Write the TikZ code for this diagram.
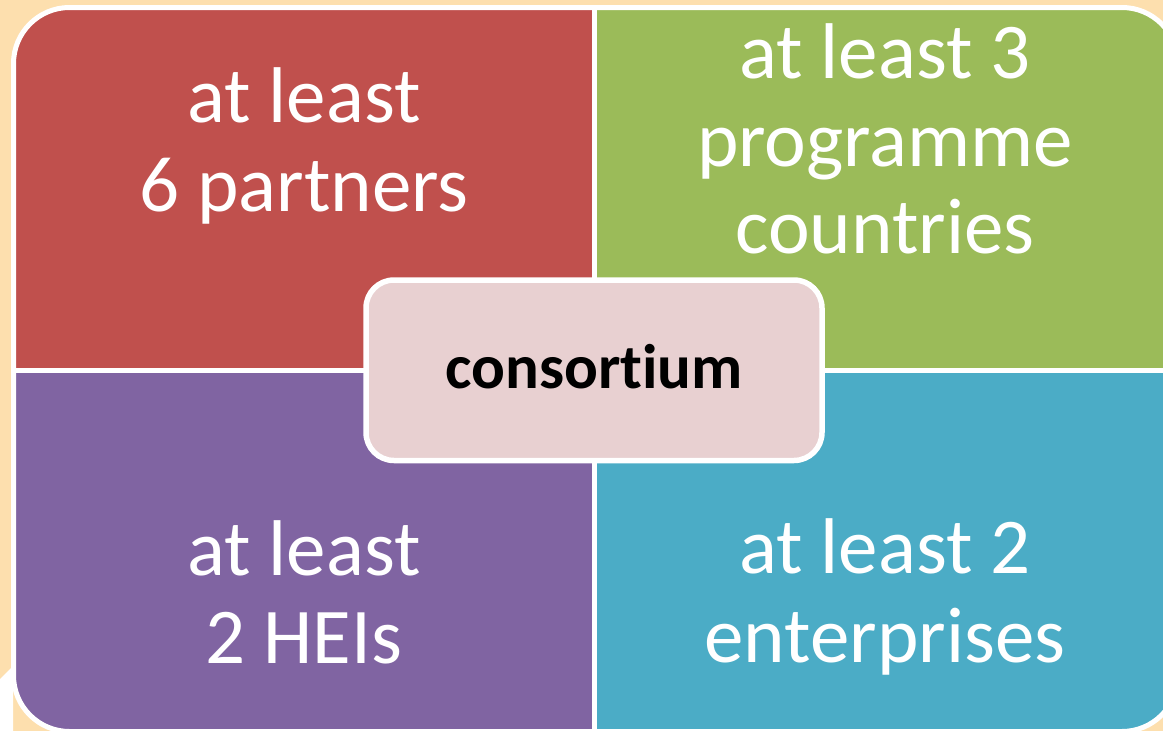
\documentclass[tikz,border=0pt]{standalone}
\usepackage{fontspec}
\setmainfont{Carlito}[Ligatures={NoCommon}]
\definecolor{peach}{HTML}{FDDFAE}
\definecolor{qred}{HTML}{C0504D}
\definecolor{qgreen}{HTML}{9BBB59}
\definecolor{qpurple}{HTML}{8064A2}
\definecolor{qblue}{HTML}{4BACC6}
\definecolor{cpink}{HTML}{E8D0D1}
\tikzset{
  qtext/.style={text=white, font=\fontsize{79}{88}\selectfont, anchor=base, inner sep=0pt},
  ctext/.style={text=black, font=\bfseries\fontsize{63}{70}\selectfont, anchor=base, inner sep=0pt},
}
\begin{document}
\begin{tikzpicture}[x=1pt,y=-1pt]
\useasboundingbox (0,0) rectangle (1163,731);
\fill[peach] (0,0) rectangle (1163,731);
\fill[white] (0,679) -- (13,666) -- (13,731) -- (0,731) -- cycle;
% quadrants
\begin{scope}
  \clip (0,0) rectangle (594.5,370);
  \fill[qred] (13.5,7.5) [rounded corners=56pt] rectangle (1178,731.5);
\end{scope}
\begin{scope}
  \clip (594.5,0) rectangle (1200,370);
  \fill[qgreen] (13.5,7.5) [rounded corners=56pt] rectangle (1178,731.5);
\end{scope}
\begin{scope}
  \clip (0,370) rectangle (594.5,740);
  \fill[qpurple] (13.5,7.5) [rounded corners=56pt] rectangle (1178,731.5);
\end{scope}
\begin{scope}
  \clip (594.5,370) rectangle (1200,740);
  \fill[qblue] (13.5,7.5) [rounded corners=56pt] rectangle (1178,731.5);
\end{scope}
\draw[white, line width=5pt] (13.5,7.5) [rounded corners=56pt] rectangle (1178,731.5);
\coordinate (vtop) at (594.5,7.5);
\coordinate (vbot) at (594.5,731.5);
\coordinate (hl) at (13.5,370);
\coordinate (hr) at (1178,370);
\draw[white, line width=5pt] (vtop) -- (vbot);
\draw[white, line width=5pt] (hl) -- (hr);
% quadrant texts
\node[qtext] (r1) at (304,122) {at least};
\node[qtext] (r2) at (304,211) {6 partners};
\node[qtext] (g1) at (885,78) {at least 3};
\node[qtext] (g2) at (885,166) {programme};
\node[qtext] (g3) at (885,253) {countries};
\node[qtext] (p1) at (304,575) {at least};
\node[qtext] (p2) at (304,663) {2 HEIs};
\node[qtext] (b1) at (885,573) {at least 2};
\node[qtext] (b2) at (885,662) {enterprises};
% center box
\draw[white, line width=5.5pt, fill=cpink, rounded corners=28pt] (366,280) rectangle (822,460.5);
\node[ctext] (cons) at (594,388) {consortium};
\end{tikzpicture}
\end{document}
